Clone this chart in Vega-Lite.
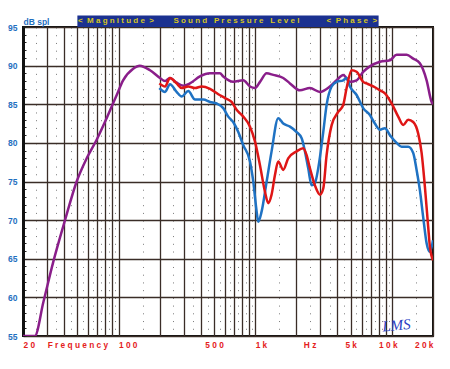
{
  "$schema": "https://vega.github.io/schema/vega-lite/v6.json",
  "width": 410,
  "height": 309,
  "autosize": "none",
  "padding": {"left": 23, "top": 27, "right": 17, "bottom": 33},
  "background": "white",
  "config": {"view": {"stroke": "#111111", "strokeWidth": 2}},
  "datasets": {
    "curves": [
      {"s": "purple", "f": 20, "db": 55}, {"s": "purple", "f": 24.4, "db": 55}, {"s": "purple", "f": 28.2, "db": 59.4},
      {"s": "purple", "f": 33.3, "db": 64.6}, {"s": "purple", "f": 40.6, "db": 70.0}, {"s": "purple", "f": 49.4, "db": 75.0},
      {"s": "purple", "f": 58.5, "db": 78.0}, {"s": "purple", "f": 69.2, "db": 80.4}, {"s": "purple", "f": 81.9, "db": 83.2},
      {"s": "purple", "f": 97, "db": 86.2}, {"s": "purple", "f": 108, "db": 88.1}, {"s": "purple", "f": 128, "db": 89.6},
      {"s": "purple", "f": 143, "db": 90.0}, {"s": "purple", "f": 170, "db": 89.4}, {"s": "purple", "f": 201, "db": 88.4},
      {"s": "purple", "f": 219, "db": 88.0}, {"s": "purple", "f": 238, "db": 88.4}, {"s": "purple", "f": 266, "db": 87.8},
      {"s": "purple", "f": 298, "db": 87.4}, {"s": "purple", "f": 333, "db": 87.7}, {"s": "purple", "f": 394, "db": 88.6},
      {"s": "purple", "f": 467, "db": 89.0}, {"s": "purple", "f": 552, "db": 89.0}, {"s": "purple", "f": 584, "db": 88.6},
      {"s": "purple", "f": 690, "db": 87.9}, {"s": "purple", "f": 818, "db": 88.1}, {"s": "purple", "f": 916, "db": 87.3},
      {"s": "purple", "f": 996, "db": 87.1}, {"s": "purple", "f": 1084, "db": 87.9}, {"s": "purple", "f": 1213, "db": 89.0},
      {"s": "purple", "f": 1356, "db": 88.8}, {"s": "purple", "f": 1604, "db": 88.4}, {"s": "purple", "f": 1796, "db": 87.7},
      {"s": "purple", "f": 2124, "db": 86.8}, {"s": "purple", "f": 2516, "db": 87.1}, {"s": "purple", "f": 2977, "db": 86.6},
      {"s": "purple", "f": 3522, "db": 87.3}, {"s": "purple", "f": 3944, "db": 88.1}, {"s": "purple", "f": 4406, "db": 88.8},
      {"s": "purple", "f": 4932, "db": 87.9}, {"s": "purple", "f": 5521, "db": 88.1}, {"s": "purple", "f": 6170, "db": 89.2},
      {"s": "purple", "f": 6906, "db": 89.9}, {"s": "purple", "f": 8186, "db": 90.5}, {"s": "purple", "f": 9680, "db": 90.7},
      {"s": "purple", "f": 10840, "db": 91.4}, {"s": "purple", "f": 12830, "db": 91.4}, {"s": "purple", "f": 14330, "db": 90.9},
      {"s": "purple", "f": 16030, "db": 90.3}, {"s": "purple", "f": 17960, "db": 88.1}, {"s": "purple", "f": 19540, "db": 85.3},
      {"s": "purple", "f": 20000, "db": 85.0},

      {"s": "blue", "f": 199, "db": 87.1}, {"s": "blue", "f": 219, "db": 86.6}, {"s": "blue", "f": 238, "db": 87.6},
      {"s": "blue", "f": 266, "db": 86.6}, {"s": "blue", "f": 290, "db": 86.0}, {"s": "blue", "f": 324, "db": 86.7},
      {"s": "blue", "f": 363, "db": 85.6}, {"s": "blue", "f": 417, "db": 85.6}, {"s": "blue", "f": 467, "db": 85.3},
      {"s": "blue", "f": 522, "db": 85.1}, {"s": "blue", "f": 584, "db": 84.5}, {"s": "blue", "f": 635, "db": 83.4},
      {"s": "blue", "f": 690, "db": 82.7}, {"s": "blue", "f": 752, "db": 81.4}, {"s": "blue", "f": 818, "db": 79.7},
      {"s": "blue", "f": 916, "db": 77.6}, {"s": "blue", "f": 968, "db": 75.0}, {"s": "blue", "f": 1025, "db": 71.1},
      {"s": "blue", "f": 1052, "db": 69.8}, {"s": "blue", "f": 1114, "db": 71.1}, {"s": "blue", "f": 1213, "db": 75.0},
      {"s": "blue", "f": 1318, "db": 78.9}, {"s": "blue", "f": 1474, "db": 83.2}, {"s": "blue", "f": 1604, "db": 82.5},
      {"s": "blue", "f": 1796, "db": 82.1}, {"s": "blue", "f": 2010, "db": 81.4}, {"s": "blue", "f": 2188, "db": 80.6},
      {"s": "blue", "f": 2312, "db": 78.9}, {"s": "blue", "f": 2444, "db": 76.7}, {"s": "blue", "f": 2588, "db": 74.5},
      {"s": "blue", "f": 2736, "db": 74.8}, {"s": "blue", "f": 2892, "db": 76.7}, {"s": "blue", "f": 3148, "db": 81.4},
      {"s": "blue", "f": 3330, "db": 84.9}, {"s": "blue", "f": 3626, "db": 87.3}, {"s": "blue", "f": 3944, "db": 87.9},
      {"s": "blue", "f": 4406, "db": 88.1}, {"s": "blue", "f": 4666, "db": 88.4}, {"s": "blue", "f": 4932, "db": 87.3},
      {"s": "blue", "f": 5521, "db": 86.2}, {"s": "blue", "f": 6170, "db": 84.5}, {"s": "blue", "f": 6906, "db": 83.6},
      {"s": "blue", "f": 7512, "db": 82.5}, {"s": "blue", "f": 8186, "db": 81.7}, {"s": "blue", "f": 8896, "db": 81.9},
      {"s": "blue", "f": 9680, "db": 81.0}, {"s": "blue", "f": 10840, "db": 80.0}, {"s": "blue", "f": 11780, "db": 79.5},
      {"s": "blue", "f": 13170, "db": 79.5}, {"s": "blue", "f": 14330, "db": 78.7}, {"s": "blue", "f": 15170, "db": 76.5},
      {"s": "blue", "f": 16030, "db": 73.9}, {"s": "blue", "f": 16950, "db": 70.4}, {"s": "blue", "f": 17960, "db": 67.0},
      {"s": "blue", "f": 18970, "db": 65.9}, {"s": "blue", "f": 20000, "db": 67.4},

      {"s": "red", "f": 199, "db": 87.7}, {"s": "red", "f": 219, "db": 87.3}, {"s": "red", "f": 238, "db": 88.4},
      {"s": "red", "f": 266, "db": 87.7}, {"s": "red", "f": 290, "db": 87.1}, {"s": "red", "f": 324, "db": 87.3},
      {"s": "red", "f": 363, "db": 87.1}, {"s": "red", "f": 406, "db": 87.3}, {"s": "red", "f": 467, "db": 87.0},
      {"s": "red", "f": 537, "db": 86.3}, {"s": "red", "f": 601, "db": 85.8}, {"s": "red", "f": 672, "db": 85.3},
      {"s": "red", "f": 731, "db": 84.3}, {"s": "red", "f": 818, "db": 83.4}, {"s": "red", "f": 916, "db": 82.1},
      {"s": "red", "f": 996, "db": 80.2}, {"s": "red", "f": 1084, "db": 77.1}, {"s": "red", "f": 1178, "db": 73.7},
      {"s": "red", "f": 1246, "db": 72.2}, {"s": "red", "f": 1318, "db": 73.3}, {"s": "red", "f": 1394, "db": 75.8},
      {"s": "red", "f": 1474, "db": 77.6}, {"s": "red", "f": 1604, "db": 76.5}, {"s": "red", "f": 1744, "db": 78.0},
      {"s": "red", "f": 2010, "db": 78.9}, {"s": "red", "f": 2246, "db": 79.3}, {"s": "red", "f": 2378, "db": 78.4},
      {"s": "red", "f": 2516, "db": 76.7}, {"s": "red", "f": 2736, "db": 74.5}, {"s": "red", "f": 2977, "db": 73.3},
      {"s": "red", "f": 3148, "db": 74.1}, {"s": "red", "f": 3330, "db": 78.4}, {"s": "red", "f": 3626, "db": 82.3},
      {"s": "red", "f": 4050, "db": 84.0}, {"s": "red", "f": 4406, "db": 84.9}, {"s": "red", "f": 4666, "db": 87.1},
      {"s": "red", "f": 5076, "db": 89.4}, {"s": "red", "f": 5521, "db": 89.2}, {"s": "red", "f": 6170, "db": 87.9},
      {"s": "red", "f": 6534, "db": 87.7}, {"s": "red", "f": 6906, "db": 87.5}, {"s": "red", "f": 7306, "db": 87.3},
      {"s": "red", "f": 8186, "db": 86.8}, {"s": "red", "f": 8896, "db": 86.4}, {"s": "red", "f": 9956, "db": 85.1},
      {"s": "red", "f": 11130, "db": 83.4}, {"s": "red", "f": 12110, "db": 82.3}, {"s": "red", "f": 13170, "db": 83.0},
      {"s": "red", "f": 14330, "db": 82.7}, {"s": "red", "f": 15590, "db": 81.2}, {"s": "red", "f": 16510, "db": 78.7},
      {"s": "red", "f": 17450, "db": 74.3}, {"s": "red", "f": 18450, "db": 69.1}, {"s": "red", "f": 18970, "db": 66.6},
      {"s": "red", "f": 20000, "db": 64.8}
    ]
  },
  "layer": [
    {
      "data": {"name": "curves"},
      "mark": {"type": "line", "strokeWidth": 2.5, "interpolate": "monotone", "clip": true},
      "encoding": {
        "x": {
          "field": "f", "type": "quantitative",
          "scale": {"type": "log", "domain": [20, 20000], "nice": false},
          "axis": {
            "title": null,
            "tickCount": 200,
            "values": [20, 25, 30, 35, 40, 45, 50, 55, 60, 65, 70, 75, 80, 85, 90, 95, 100, 150, 200, 250, 300, 350, 400, 450, 500, 550, 600, 650, 700, 750, 800, 850, 900, 950, 1000, 1500, 2000, 2500, 3000, 3500, 4000, 4500, 5000, 5500, 6000, 6500, 7000, 7500, 8000, 8500, 9000, 9500, 10000, 15000, 20000],
            "labelExpr": "datum.value == 20 ? '2 0' : datum.value == 50 ? 'F r e q u e n c y' : datum.value == 100 ? '1 0 0' : datum.value == 500 ? '5 0 0' : datum.value == 1000 ? '1 k' : datum.value == 2500 ? 'H z' : datum.value == 5000 ? '5 k' : datum.value == 10000 ? '1 0 k' : datum.value == 20000 ? '2 0 k' : ''",
            "labelOverlap": false, "labelFlush": false, "labelBound": false,
            "ticks": false, "domain": false,
            "labelFont": "Liberation Sans", "labelFontSize": 8.3, "labelFontWeight": "bold", "labelColor": "#e4211c",
            "labelPadding": 4, "labelBaseline": "top",
            "labelAlign": {"condition": [{"test": "datum.value == 20 || datum.value == 100 || datum.value == 1000", "value": "left"}, {"test": "datum.value == 20000", "value": "right"}], "value": "center"},
            "labelOffset": {"condition": {"test": "datum.value == 10000", "value": -4}, "value": 0},
            "grid": true,
            "gridColor": {"condition": {"test": "indexof([25,35,45,55,65,75,85,95,150,250,350,450,550,650,750,850,950,1500,2500,3500,4500,5500,6500,7500,8500,9500,15000], datum.value) >= 0", "value": "#7a7a7a"}, "value": "#3a2d27"},
            "gridWidth": {"condition": {"test": "indexof([25,35,45,55,65,75,85,95,150,250,350,450,550,650,750,850,950,1500,2500,3500,4500,5500,6500,7500,8500,9500,15000], datum.value) >= 0", "value": 1}, "value": 1.3},
            "gridDash": {"condition": {"test": "indexof([25,35,45,55,65,75,85,95,150,250,350,450,550,650,750,850,950,1500,2500,3500,4500,5500,6500,7500,8500,9500,15000], datum.value) >= 0", "value": [1, 6.725]}, "value": []}
          }
        },
        "y": {
          "field": "db", "type": "quantitative",
          "scale": {"domain": [55, 95], "nice": false, "zero": false},
          "axis": {
            "title": "dB spl", "titleAngle": 0, "titleAlign": "left", "titleX": 0, "titleY": -6, "titleBaseline": "middle",
            "titleFont": "Liberation Sans", "titleFontSize": 8.5, "titleFontWeight": "bold", "titleColor": "#1f6fbf",
            "tickCount": 200,
            "format": "d",
            "values": [55, 56, 57, 58, 59, 60, 61, 62, 63, 64, 65, 66, 67, 68, 69, 70, 71, 72, 73, 74, 75, 76, 77, 78, 79, 80, 81, 82, 83, 84, 85, 86, 87, 88, 89, 90, 91, 92, 93, 94, 95],
            "labelExpr": "datum.value % 5 == 0 ? datum.label : ''",
            "labelFont": "Liberation Sans", "labelFontSize": 8.5, "labelFontWeight": "bold", "labelColor": "#1f6fbf",
            "labelPadding": 9, "labelOverlap": false, "labelBound": false, "labelFlush": false,
            "ticks": true, "tickSize": -3, "tickColor": "#222222", "tickWidth": 1,
            "domain": true, "domainColor": "#111111", "domainWidth": 3,
            "grid": true,
            "gridOpacity": {"condition": {"test": "datum.value % 5 == 0", "value": 1}, "value": 0},
            "gridColor": "#3a2d27", "gridWidth": 1.3
          }
        },
        "color": {
          "field": "s", "type": "nominal",
          "scale": {"domain": ["purple", "blue", "red"], "range": ["#8a1e8a", "#1f72c3", "#df1616"]},
          "legend": null
        }
      }
    },
    {
      "data": {"values": [{}]},
      "mark": {"type": "rect", "color": "#1b3190", "clip": false},
      "encoding": {"x": {"datum": 50}, "x2": {"datum": 8000}, "y": {"datum": 95}, "y2": {"datum": 96.5}}
    },
    {
      "data": {"values": [{}]},
      "mark": {"type": "text", "text": "<\u00a0\u00a0M a g n i t u d e\u00a0\u00a0>", "font": "Liberation Sans", "fontSize": 8, "fontWeight": "bold", "color": "#d6c51c", "align": "center", "baseline": "middle", "clip": false},
      "encoding": {"x": {"datum": 95.8}, "y": {"datum": 95.8}}
    },
    {
      "data": {"values": [{}]},
      "mark": {"type": "text", "text": "S o u n d\u00a0\u00a0\u00a0P r e s s u r e\u00a0\u00a0\u00a0L e v e l", "font": "Liberation Sans", "fontSize": 8, "fontWeight": "bold", "color": "#d6c51c", "align": "center", "baseline": "middle", "clip": false},
      "encoding": {"x": {"datum": 729}, "y": {"datum": 95.8}}
    },
    {
      "data": {"values": [{}]},
      "mark": {"type": "text", "text": "<\u00a0\u00a0P h a s e\u00a0\u00a0>", "font": "Liberation Sans", "fontSize": 8, "fontWeight": "bold", "color": "#d6c51c", "align": "center", "baseline": "middle", "clip": false},
      "encoding": {"x": {"datum": 5100}, "y": {"datum": 95.8}}
    },
    {
      "data": {"values": [{}]},
      "mark": {"type": "text", "text": "LMS", "font": "Liberation Serif", "fontStyle": "italic", "fontSize": 15, "color": "#2b3fc4", "align": "center", "baseline": "middle", "angle": -5},
      "encoding": {"x": {"datum": 10800}, "y": {"datum": 56.4}}
    }
  ]
}
